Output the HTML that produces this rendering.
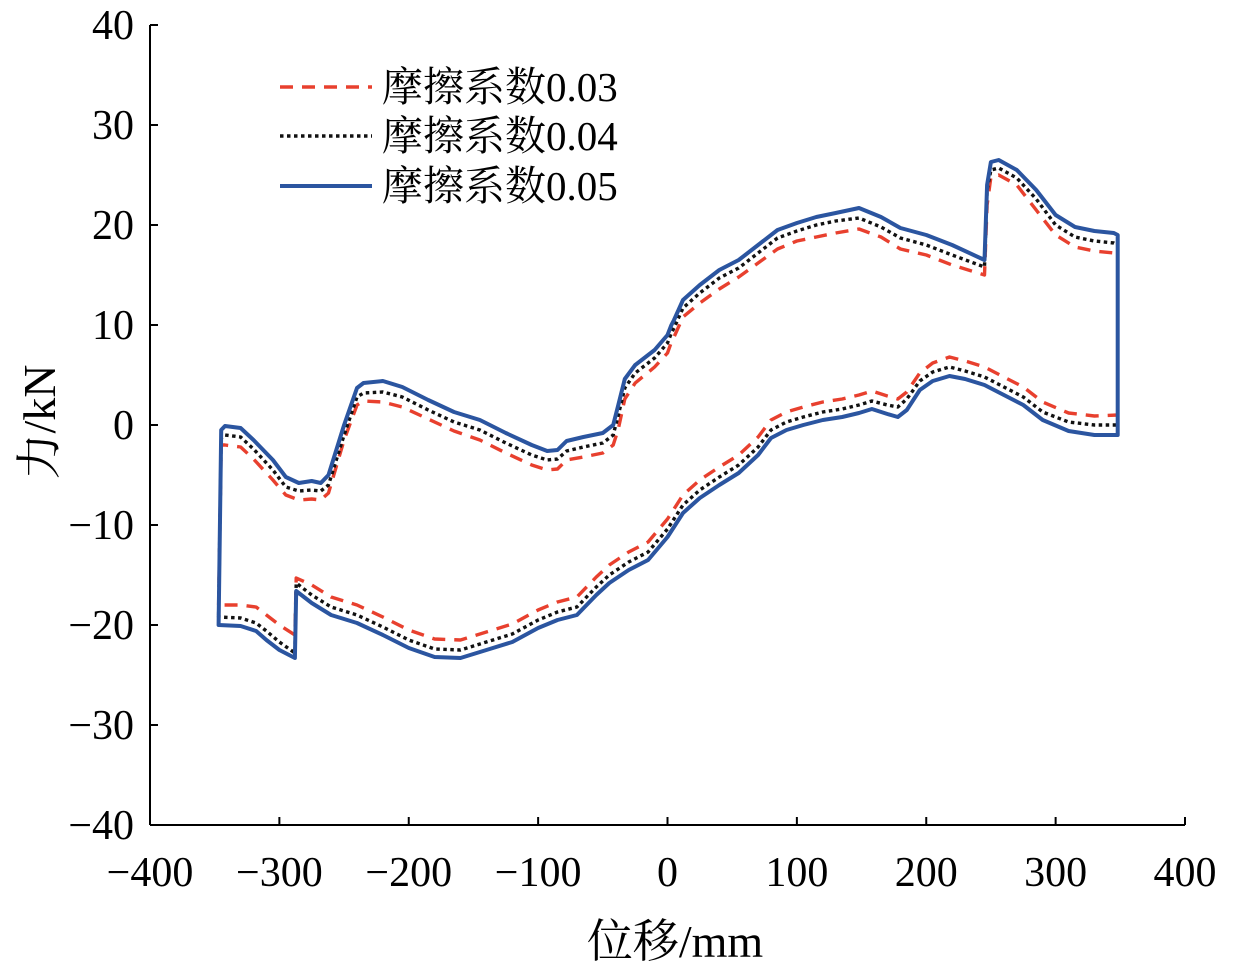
<!DOCTYPE html>
<html><head><meta charset="utf-8"><style>
body{margin:0;background:#fff;}
svg{display:block;font-family:"Liberation Serif","Noto Serif CJK SC",serif;}
</style></head><body>
<svg id="chart" width="1235" height="968" viewBox="0 0 1235 968" xmlns="http://www.w3.org/2000/svg">
<g id="axes"></g>
<g id="series"></g>
<g id="legend"></g>
<text transform="translate(55,422) rotate(-90)" text-anchor="middle" font-size="46">力/kN</text>
<text x="675" y="957" text-anchor="middle" font-size="46">位移/mm</text>
</svg>
<script>
const xTicks=[-400,-300,-200,-100,0,100,200,300,400];
const yTicks=[-40,-30,-20,-10,0,10,20,30,40];
const seriesNames=["摩擦系数0.03","摩擦系数0.04","摩擦系数0.05"];
const upperX=[-347,-345,-342,-330,-320,-305,-295,-285,-275,-268,-262,-250,-240,-235,-220,-205,-185,-165,-145,-125,-105,-93,-85,-78,-65,-50,-42,-38,-33,-25,-10,0,3,5,12,25,40,55,70,85,100,115,130,148,165,180,200,220,245,247,250,256,270,285,300,315,330,345,348];
const upper005=[-20,-0.5,-0.1,-0.3,-1.5,-3.5,-5.2,-5.8,-5.6,-5.8,-5,0,3.7,4.2,4.4,3.8,2.5,1.3,0.5,-0.8,-2,-2.6,-2.5,-1.6,-1.2,-0.8,0,2,4.6,6,7.5,9,10,10.5,12.5,14,15.5,16.5,18,19.5,20.2,20.8,21.2,21.7,20.8,19.7,19,18,16.5,24,26.3,26.5,25.5,23.5,21,19.8,19.4,19.2,19];
const upper004=[-19,-1.3,-1,-1.2,-2.4,-4.5,-6.2,-6.6,-6.5,-6.6,-6,-1,2.8,3.2,3.3,2.8,1.5,0.3,-0.5,-1.8,-3,-3.5,-3.4,-2.6,-2.2,-1.8,-1,1,3.7,5.2,6.7,8.2,9.2,9.7,11.7,13.2,14.7,15.7,17.2,18.7,19.4,20,20.4,20.7,19.8,18.7,18,17,15.8,23.5,25.5,25.7,24.7,22.6,20,18.8,18.4,18.2,18];
const upper003=[-18,-2,-2,-2.2,-3.4,-5.5,-7,-7.5,-7.4,-7.5,-6.8,-1.5,2,2.4,2.3,1.8,0.6,-0.6,-1.5,-2.8,-4,-4.5,-4.4,-3.5,-3.2,-2.8,-2,-0.4,2.6,4.2,5.8,7.2,8.3,8.8,10.8,12.2,13.6,14.8,16.2,17.6,18.4,18.8,19.2,19.6,18.8,17.6,17,16,15,22,24.8,25,24,21.5,19,17.8,17.4,17.2,17];
const lowerX=[348,330,310,290,275,260,245,230,218,205,195,185,178,170,158,148,135,120,105,92,80,70,55,40,25,12,0,-15,-30,-45,-55,-70,-85,-100,-120,-140,-160,-180,-200,-220,-240,-260,-275,-287,-288,-300,-310,-318,-330,-347];
const lower005=[-1,-1,-0.6,0.5,2,3,4,4.6,4.9,4.4,3.5,1.5,0.8,1.1,1.6,1.2,0.8,0.5,0,-0.5,-1.3,-3,-4.8,-6,-7.3,-8.8,-11.2,-13.5,-14.5,-15.8,-17,-19,-19.5,-20.3,-21.7,-22.5,-23.3,-23.2,-22.3,-21,-19.8,-19,-17.8,-16.6,-23.3,-22.5,-21.5,-20.6,-20.1,-20];
const lower004=[0,0,0.3,1.3,2.8,3.8,4.8,5.4,5.8,5.3,4.4,2.6,1.8,2,2.4,2,1.6,1.3,0.8,0.3,-0.5,-2.2,-4,-5.2,-6.5,-8,-10.4,-12.7,-13.7,-15,-16.2,-18.2,-18.7,-19.5,-20.9,-21.7,-22.5,-22.4,-21.5,-20.2,-19,-18.2,-17,-15.8,-22.8,-21.7,-20.6,-19.8,-19.3,-19.2];
const lower003=[1,0.9,1.2,2.3,3.8,4.8,5.8,6.4,6.8,6.2,5.2,3.3,2.6,2.9,3.4,3,2.6,2.3,1.8,1.3,0.5,-1.2,-3,-4.2,-5.5,-7,-9.4,-11.7,-12.7,-14,-15.2,-17.2,-17.7,-18.5,-19.9,-20.7,-21.5,-21.4,-20.5,-19.2,-18,-17.2,-16,-15.3,-21,-20,-19,-18.2,-18,-18];

const NS="http://www.w3.org/2000/svg";
const X0=150,X1=1185,Y0=825,Y1=25;
const sx=v=>X0+(v+400)/800*(X1-X0);
const sy=v=>Y0-(v+40)/80*(Y0-Y1);
function mk(tag,attrs,parent){const e=document.createElementNS(NS,tag);for(const k in attrs)e.setAttribute(k,attrs[k]);parent.appendChild(e);return e;}
const axes=document.getElementById('axes');
let l=mk('line',{x1:X0,y1:Y1,x2:X0,y2:Y0,stroke:'#000','stroke-width':2},axes);


l=mk('line',{x1:X0,y1:Y0,x2:X1,y2:Y0,stroke:'#000','stroke-width':2},axes);


const fmt=v=>v<0?'\u2212'+Math.abs(v):String(v);
xTicks.forEach(v=>{
  const t=mk('line',{x1:sx(v),y1:Y0,x2:sx(v),y2:Y0-8,stroke:'#000','stroke-width':2},axes);
  
  
  const tx=mk('text',{x:sx(v),y:886,'text-anchor':'middle','font-size':42},axes);
  tx.textContent=fmt(v);
  
  
});
yTicks.forEach(v=>{
  const t=mk('line',{x1:X0,y1:sy(v),x2:X0+8,y2:sy(v),stroke:'#000','stroke-width':2},axes);
  
  
  const tx=mk('text',{x:134,y:sy(v)+14,'text-anchor':'end','font-size':42},axes);
  tx.textContent=fmt(v);
  
  
});
const styles=[
 {stroke:'#e8402e',w:3.4,dash:'13,9',up:upper003,lo:lower003,name:'series-friction-0-03'},
 {stroke:'#111',w:3.4,dash:'3.5,3.5',up:upper004,lo:lower004,name:'series-friction-0-04'},
 {stroke:'#2b55a0',w:4,dash:'',up:upper005,lo:lower005,name:'series-friction-0-05'}
];
const sg=document.getElementById('series');
styles.forEach(s=>{
  const pts=[];
  upperX.forEach((x,i)=>pts.push(sx(x).toFixed(1)+','+sy(s.up[i]).toFixed(1)));
  lowerX.forEach((x,i)=>pts.push(sx(x).toFixed(1)+','+sy(s.lo[i]).toFixed(1)));
  const p=mk('polygon',{points:pts.join(' '),fill:'none',stroke:s.stroke,'stroke-width':s.w,'stroke-linejoin':'round','stroke-dasharray':s.dash},sg);
  
  
});
const lg=document.getElementById('legend');
const ly=[87,136,186];
styles.forEach((s,i)=>{
  const ln=mk('line',{x1:280,y1:ly[i],x2:372,y2:ly[i],stroke:s.stroke,'stroke-width':s.w,'stroke-dasharray':s.dash},lg);
  
  
  const t=mk('text',{x:382,y:ly[i]+14,'font-size':41},lg);
  t.textContent=seriesNames[i];
  
  
});
</script>
</body></html>
